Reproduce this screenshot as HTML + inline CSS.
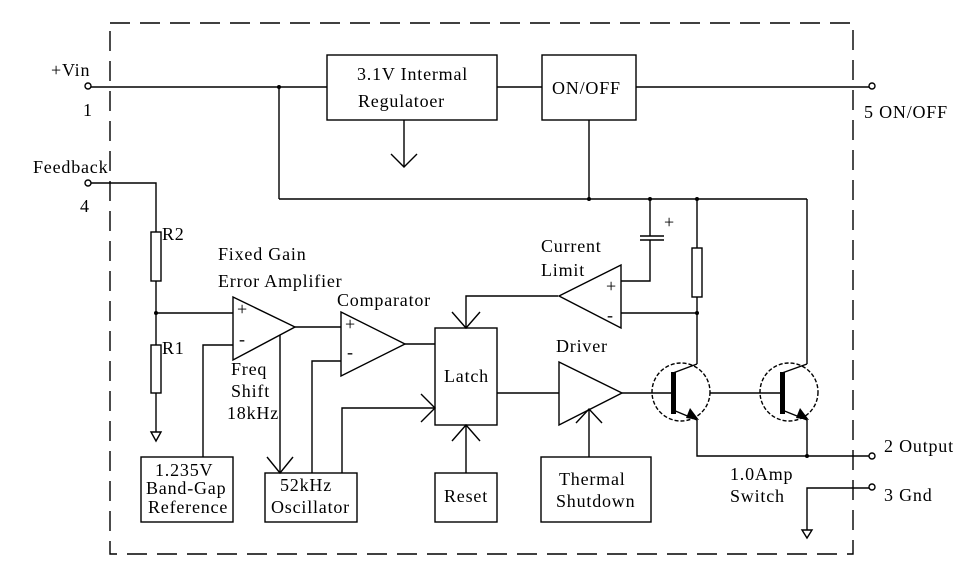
<!DOCTYPE html>
<html><head><style>
html,body{margin:0;padding:0;background:#fff;}
svg text{font-family:"Liberation Serif",serif;font-size:18px;letter-spacing:0.8px;fill:#000;}
</style></head><body>
<svg width="980" height="568" viewBox="0 0 980 568" xmlns="http://www.w3.org/2000/svg">
<g fill="none" stroke="#000" stroke-width="1.4">
<rect x="110" y="23" width="743" height="531" stroke-dasharray="20,10"/>
<circle cx="88" cy="86" r="3"/>
<line x1="91" y1="87" x2="327" y2="87"/>
<rect x="327" y="55" width="170" height="65"/>
<line x1="497" y1="87" x2="542" y2="87"/>
<rect x="542" y="55" width="94" height="65"/>
<line x1="636" y1="87" x2="869" y2="87"/>
<circle cx="872" cy="86" r="3"/>
<line x1="404" y1="120" x2="404" y2="167"/>
<polyline points="391,154 404,167 417,154"/>
<line x1="279" y1="87" x2="279" y2="199"/>
<line x1="279" y1="199" x2="807" y2="199"/>
<line x1="589" y1="120" x2="589" y2="199"/>
<circle cx="88" cy="183" r="3"/>
<polyline points="91,183 156,183 156,232"/>
<rect x="151" y="232" width="10" height="49"/>
<line x1="156" y1="281" x2="156" y2="345"/>
<rect x="151" y="345" width="10" height="48"/>
<line x1="156" y1="393" x2="156" y2="432"/>
<polygon points="151,432 161,432 156,441"/>
<line x1="156" y1="313" x2="233" y2="313"/>
<polygon points="233,297 295,327 233,360"/>
<polyline points="233,345 203,345 203,457"/>
<rect x="141" y="457" width="92" height="65"/>
<line x1="280" y1="335" x2="280" y2="473"/>
<polyline points="267,457 280,473 293,457"/>
<rect x="265" y="473" width="92" height="49"/>
<line x1="295" y1="327" x2="341" y2="327"/>
<polygon points="341,312 405,344 341,376"/>
<polyline points="341,361 312,361 312,473"/>
<polyline points="342,473 342,408 435,408"/>
<polyline points="421,394 435,408 421,422"/>
<line x1="405" y1="344" x2="435" y2="344"/>
<rect x="435" y="328" width="62" height="97"/>
<polyline points="558,296 466,296 466,328"/>
<polyline points="452,312 466,328 480,312"/>
<rect x="435" y="473" width="62" height="49"/>
<line x1="466" y1="473" x2="466" y2="425"/>
<polyline points="452,441 466,425 480,441"/>
<line x1="497" y1="393" x2="559" y2="393"/>
<polygon points="559,362 622,393 559,425"/>
<line x1="589" y1="457" x2="589" y2="409"/>
<polyline points="576,423 589,409 602,423"/>
<rect x="541" y="457" width="110" height="65"/>
<polygon points="559,296 621,265 621,328"/>
<polyline points="621,281 650,281 650,240"/>
<line x1="650" y1="236" x2="650" y2="199"/>
<line x1="640" y1="236" x2="664" y2="236"/>
<line x1="640" y1="240" x2="664" y2="240"/>
<line x1="697" y1="199" x2="697" y2="248"/>
<rect x="692" y="248" width="10" height="49"/>
<line x1="697" y1="297" x2="697" y2="364"/>
<line x1="621" y1="313" x2="697" y2="313"/>
<line x1="622" y1="393" x2="673" y2="393"/>
<circle cx="681" cy="392" r="29" stroke-dasharray="4,2"/>
<line x1="673" y1="373" x2="697" y2="364"/>
<line x1="673" y1="410" x2="697" y2="420"/>
<polyline points="697,420 697,456 869,456"/>
<line x1="710" y1="393" x2="782" y2="393"/>
<circle cx="789" cy="392" r="29" stroke-dasharray="4,2"/>
<line x1="782" y1="373" x2="807" y2="364"/>
<line x1="807" y1="364" x2="807" y2="199"/>
<line x1="782" y1="410" x2="807" y2="420"/>
<line x1="807" y1="420" x2="807" y2="456"/>
<circle cx="872" cy="456" r="3"/>
<polyline points="807,530 807,488 869,488"/>
<polygon points="802,530 812,530 807,538"/>
<circle cx="872" cy="487" r="3"/>
</g>
<g fill="#000">
<rect x="671" y="372" width="5" height="42"/>
<rect x="780" y="372" width="5" height="42"/>
<polygon points="690,408 699,420 686,418"/>
<polygon points="800,408 809,420 796,418"/>
<circle cx="279" cy="87" r="2"/><circle cx="156" cy="313" r="2"/>
<circle cx="589" cy="199" r="2"/><circle cx="650" cy="199" r="2"/><circle cx="697" cy="199" r="2"/>
<circle cx="697" cy="313" r="2"/><circle cx="807" cy="456" r="2"/>
</g>
<text x="51" y="76">+Vin</text>
<text x="83" y="116">1</text>
<text x="33" y="173">Feedback</text>
<text x="80" y="212">4</text>
<text x="357" y="80">3.1V Intermal</text>
<text x="358" y="107">Regulatoer</text>
<text x="552" y="94">ON/OFF</text>
<text x="864" y="118">5 ON/OFF</text>
<text x="162" y="240">R2</text>
<text x="162" y="354">R1</text>
<text x="218" y="260">Fixed Gain</text>
<text x="218" y="287">Error Amplifier</text>
<text x="337" y="306">Comparator</text>
<text x="237" y="315">+</text>
<text x="239" y="345">-</text>
<text x="345" y="330">+</text>
<text x="347" y="358">-</text>
<text x="231" y="375">Freq</text>
<text x="231" y="397">Shift</text>
<text x="227" y="419">18kHz</text>
<text x="155" y="476">1.235V</text>
<text x="146" y="494">Band-Gap</text>
<text x="148" y="513">Reference</text>
<text x="280" y="491">52kHz</text>
<text x="271" y="513">Oscillator</text>
<text x="444" y="382">Latch</text>
<text x="444" y="502">Reset</text>
<text x="556" y="352">Driver</text>
<text x="559" y="485">Thermal</text>
<text x="556" y="507">Shutdown</text>
<text x="541" y="252">Current</text>
<text x="541" y="276">Limit</text>
<text x="606" y="292">+</text>
<text x="607" y="321">-</text>
<text x="664" y="228">+</text>
<text x="730" y="480">1.0Amp</text>
<text x="730" y="502">Switch</text>
<text x="884" y="452">2 Output</text>
<text x="884" y="501">3 Gnd</text>
</svg>
</body></html>
